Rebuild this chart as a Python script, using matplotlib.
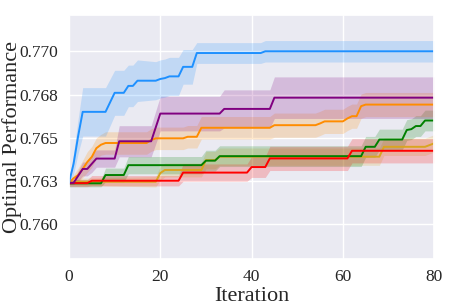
import matplotlib
matplotlib.use("Agg")
import matplotlib.pyplot as plt
import seaborn as sns
import numpy as np

sns.set_theme(style="darkgrid")
plt.rcParams['font.family'] = ['Liberation Serif', 'DejaVu Serif']

# key points: (iteration, mean, half band width)
blue_x = [0, 1, 2, 3, 8, 10, 12, 13, 14, 15, 19, 20, 21, 22, 24, 25, 27, 28, 42, 43, 80]
blue_y = [0.7624, 0.7635, 0.7651, 0.7665, 0.7665, 0.7676, 0.7676, 0.7680, 0.7680, 0.7683, 0.7683,
          0.7684, 0.76845, 0.76855, 0.76855, 0.7691, 0.7691, 0.7699, 0.7699, 0.7700, 0.7700]
blue_s = [0.0001, 0.0006, 0.0010, 0.0014, 0.0014, 0.0013, 0.0013, 0.0012, 0.0012, 0.0012, 0.0011,
          0.0011, 0.0011, 0.0011, 0.0011, 0.0010, 0.0010, 0.0006, 0.0006, 0.00062, 0.00062]

purple_x = [0, 1, 2, 3, 4, 5, 6, 10, 11, 18, 20, 33, 34, 44, 45, 80]
purple_y = [0.7624, 0.7624, 0.7628, 0.7632, 0.7632, 0.7635, 0.7638, 0.7638, 0.7648, 0.7648,
            0.7664, 0.7664, 0.76667, 0.76667, 0.76732, 0.76732]
purple_s = [0.0001, 0.0001, 0.0003, 0.0004, 0.0004, 0.0005, 0.0005, 0.0005, 0.0009, 0.0009,
            0.0010, 0.0010, 0.0011, 0.0011, 0.0012, 0.0012]

orange_x = [0, 1, 2, 3, 4, 5, 6, 7, 8, 17, 18, 19, 25, 26, 28, 29, 44, 45, 54, 55, 56, 60, 61,
            62, 63, 64, 65, 80]
orange_y = [0.7624, 0.76266, 0.76285, 0.7632, 0.7636, 0.7639, 0.7644, 0.7646, 0.7647, 0.7647,
            0.76487, 0.76497, 0.76497, 0.76506, 0.76506, 0.76558, 0.76558, 0.76573, 0.76573,
            0.76583, 0.76595, 0.76595, 0.76612, 0.76625, 0.76625, 0.76683, 0.76692, 0.76692]
orange_s = [0.0001, 0.0002, 0.0004, 0.0005, 0.0006, 0.0006, 0.0006, 0.0006, 0.00065, 0.00065,
            0.00065, 0.00065, 0.00065, 0.00065, 0.00065, 0.00065, 0.00065, 0.0007, 0.0007,
            0.0007, 0.0007, 0.0007, 0.0007, 0.0007, 0.0007, 0.0007, 0.0007, 0.0007]

green_x = [0, 7, 8, 12, 13, 29, 30, 32, 33, 64, 65, 67, 68, 73, 74, 75, 76, 77, 78, 80]
green_y = [0.76237, 0.76237, 0.76285, 0.76285, 0.76342, 0.76342, 0.76368, 0.76368, 0.76394,
           0.76394, 0.76448, 0.76448, 0.7649, 0.7649, 0.76545, 0.7655, 0.76568, 0.76568,
           0.7660, 0.7660]
green_s = [0.0002, 0.0002, 0.0004, 0.0004, 0.0005, 0.0005, 0.0006, 0.0006, 0.0006, 0.0006,
           0.0006, 0.0006, 0.0006, 0.0006, 0.0006, 0.0006, 0.0006, 0.0006, 0.0006, 0.0006]

red_x = [0, 4, 5, 24, 25, 39, 40, 43, 44, 61, 62, 80]
red_y = [0.76238, 0.76238, 0.76252, 0.76252, 0.76299, 0.76299, 0.76331, 0.76331, 0.76381,
         0.76381, 0.76425, 0.76425]
red_s = [0.0002, 0.0002, 0.0003, 0.0003, 0.0005, 0.0005, 0.0006, 0.0006, 0.0007, 0.0007,
         0.0007, 0.0007]

gold_x = [0, 2, 19, 20, 21, 29, 30, 32, 33, 68, 69, 78, 80]
gold_y = [0.76238, 0.76246, 0.76246, 0.76296, 0.76314, 0.76314, 0.76371, 0.76371, 0.76391,
          0.76391, 0.76448, 0.76448, 0.76468]
gold_s = [0.0001, 0.0002, 0.0003, 0.0004, 0.0004, 0.0004, 0.0005, 0.0005, 0.0005, 0.0005,
          0.0005, 0.0005, 0.0005]

series = [
    (gold_x, gold_y, gold_s, "goldenrod"),
    (green_x, green_y, green_s, "green"),
    (red_x, red_y, red_s, "red"),
    (orange_x, orange_y, orange_s, "darkorange"),
    (purple_x, purple_y, purple_s, "purple"),
    (blue_x, blue_y, blue_s, "dodgerblue"),
]

yticks = [0.760, 0.7625, 0.765, 0.7675, 0.770]
ytick_labels = ["0.760", "0.763", "0.765", "0.768", "0.770"]
xticks = [0, 20, 40, 60, 80]

fig = plt.figure(figsize=(4.57, 3.05), dpi=100)
ax = fig.add_axes([0.151, 0.151, 0.799, 0.800])

for x, y, s, c in series:
    x = np.array(x)
    y = np.array(y)
    s = np.array(s)
    ax.fill_between(x, y - s, y + s, color=c, alpha=0.2, linewidth=0)
    ax.plot(x, y, color=c, linewidth=1.4)

ax.set_xlim(0, 80)
ax.set_ylim(0.7580, 0.7721)
ax.set_xticks(xticks)
ax.set_yticks(yticks)
ax.set_yticklabels(ytick_labels)
ax.tick_params(axis='y', labelsize=12.5, pad=2)
ax.tick_params(axis='x', labelsize=12.5, pad=1)
ax.set_xlabel("Iteration", fontsize=16)
ax.set_ylabel("Optimal Performance", fontsize=16)
ax.xaxis.set_label_coords(0.5, -0.115)
ax.yaxis.set_label_coords(-0.128, 0.5)

fig.savefig("out.png", dpi=100)
